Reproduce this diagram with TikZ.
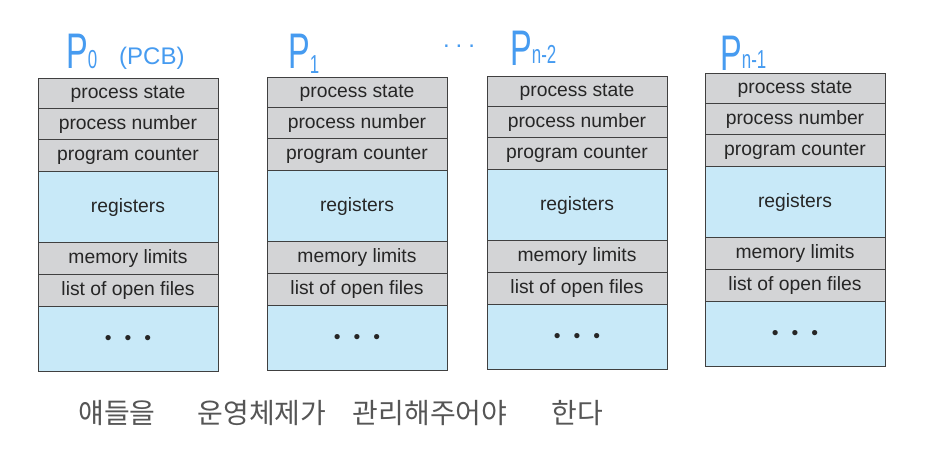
\documentclass[tikz,border=0pt]{standalone}
\usepackage{fontspec}
\setmainfont{Liberation Sans}
\newfontfamily\penfont[FakeStretch=0.65]{Liberation Sans}
\newfontfamily\krfont{Noto Sans CJK KR}
\usetikzlibrary{positioning}
\definecolor{pcbgray}{RGB}{211,212,214}
\definecolor{pcbblue}{RGB}{200,233,248}
\definecolor{penblue}{RGB}{70,155,240}
\definecolor{pengray}{RGB}{85,85,85}
% one process control block, #1 name, #2 left, #3 top
\newcommand{\pcbcol}[3]{%
  \node[gfield, minimum height=30pt, anchor=north west] (#1-state) at (#2,#3) {process state};
  \node[gfield, minimum height=31pt, below=0pt of #1-state] (#1-num) {process number};
  \node[gfield, minimum height=32pt, below=0pt of #1-num] (#1-pc) {program counter};
  \node[bfield, minimum height=71pt, below=0pt of #1-pc] (#1-reg) {registers};
  \node[gfield, minimum height=32pt, below=0pt of #1-reg] (#1-mem) {memory limits};
  \node[gfield, minimum height=32pt, below=0pt of #1-mem] (#1-files) {list of open files};
  \node[bfield, minimum height=65pt, below=0pt of #1-files] (#1-more) {\textbullet\hspace{13pt}\textbullet\hspace{13pt}\textbullet};
}
% handwritten P with index, #1 index, #2 lift of the index
\newcommand{\pname}[2]{{\fontsize{50}{50}\selectfont P}\raisebox{#2}{\fontsize{26}{26}\selectfont #1}}

\begin{document}
\begin{tikzpicture}[x=1pt, y=-1pt,
        field/.style={draw=black!75, line width=0.9pt, minimum width=180pt, inner sep=0pt, outer sep=0pt, text height=14pt, text depth=3pt, text=black!85, font=\fontsize{19.3}{22}\selectfont},
        gfield/.style={field, fill=pcbgray},
        bfield/.style={field, fill=pcbblue},
        pen/.style={text=penblue, inner sep=0pt, anchor=base west, font=\penfont},
        note/.style={text=pengray, inner sep=0pt, font=\krfont\fontsize{28}{32}\selectfont}
    ]
        \useasboundingbox (0,0) rectangle (925,455);

        % PCB columns
        \pcbcol{p0}{38}{78}
        \pcbcol{p1}{267}{77}
        \pcbcol{p2}{487}{76}
        \pcbcol{p3}{705}{73}

        % Handwritten labels
        \node[pen] (l0) at (66,68) {\pname{0}{0pt}};
        \node[pen, font=\fontsize{24}{24}\selectfont] (pcb) at (119,64) {(PCB)};
        \node[pen] (l1) at (288,68) {\pname{1}{-5pt}};
        \node[pen, anchor=center, font=\fontsize{24}{24}\selectfont] (gap) at (459,46) {.\hspace{6pt}.\hspace{6pt}.};
        \node[pen] (l2) at (510,65) {\pname{n-2}{2pt}};
        \node[pen] (l3) at (720,70) {\pname{n-1}{2pt}};

        % Note
        \node[note] (kr1) at (117,413) {얘들을};
        \node[note] (kr2) at (262,413) {운영체제가};
        \node[note] (kr3) at (430,413) {관리해주어야};
        \node[note] (kr4) at (577,413) {한다};
    \end{tikzpicture}
\end{document}
